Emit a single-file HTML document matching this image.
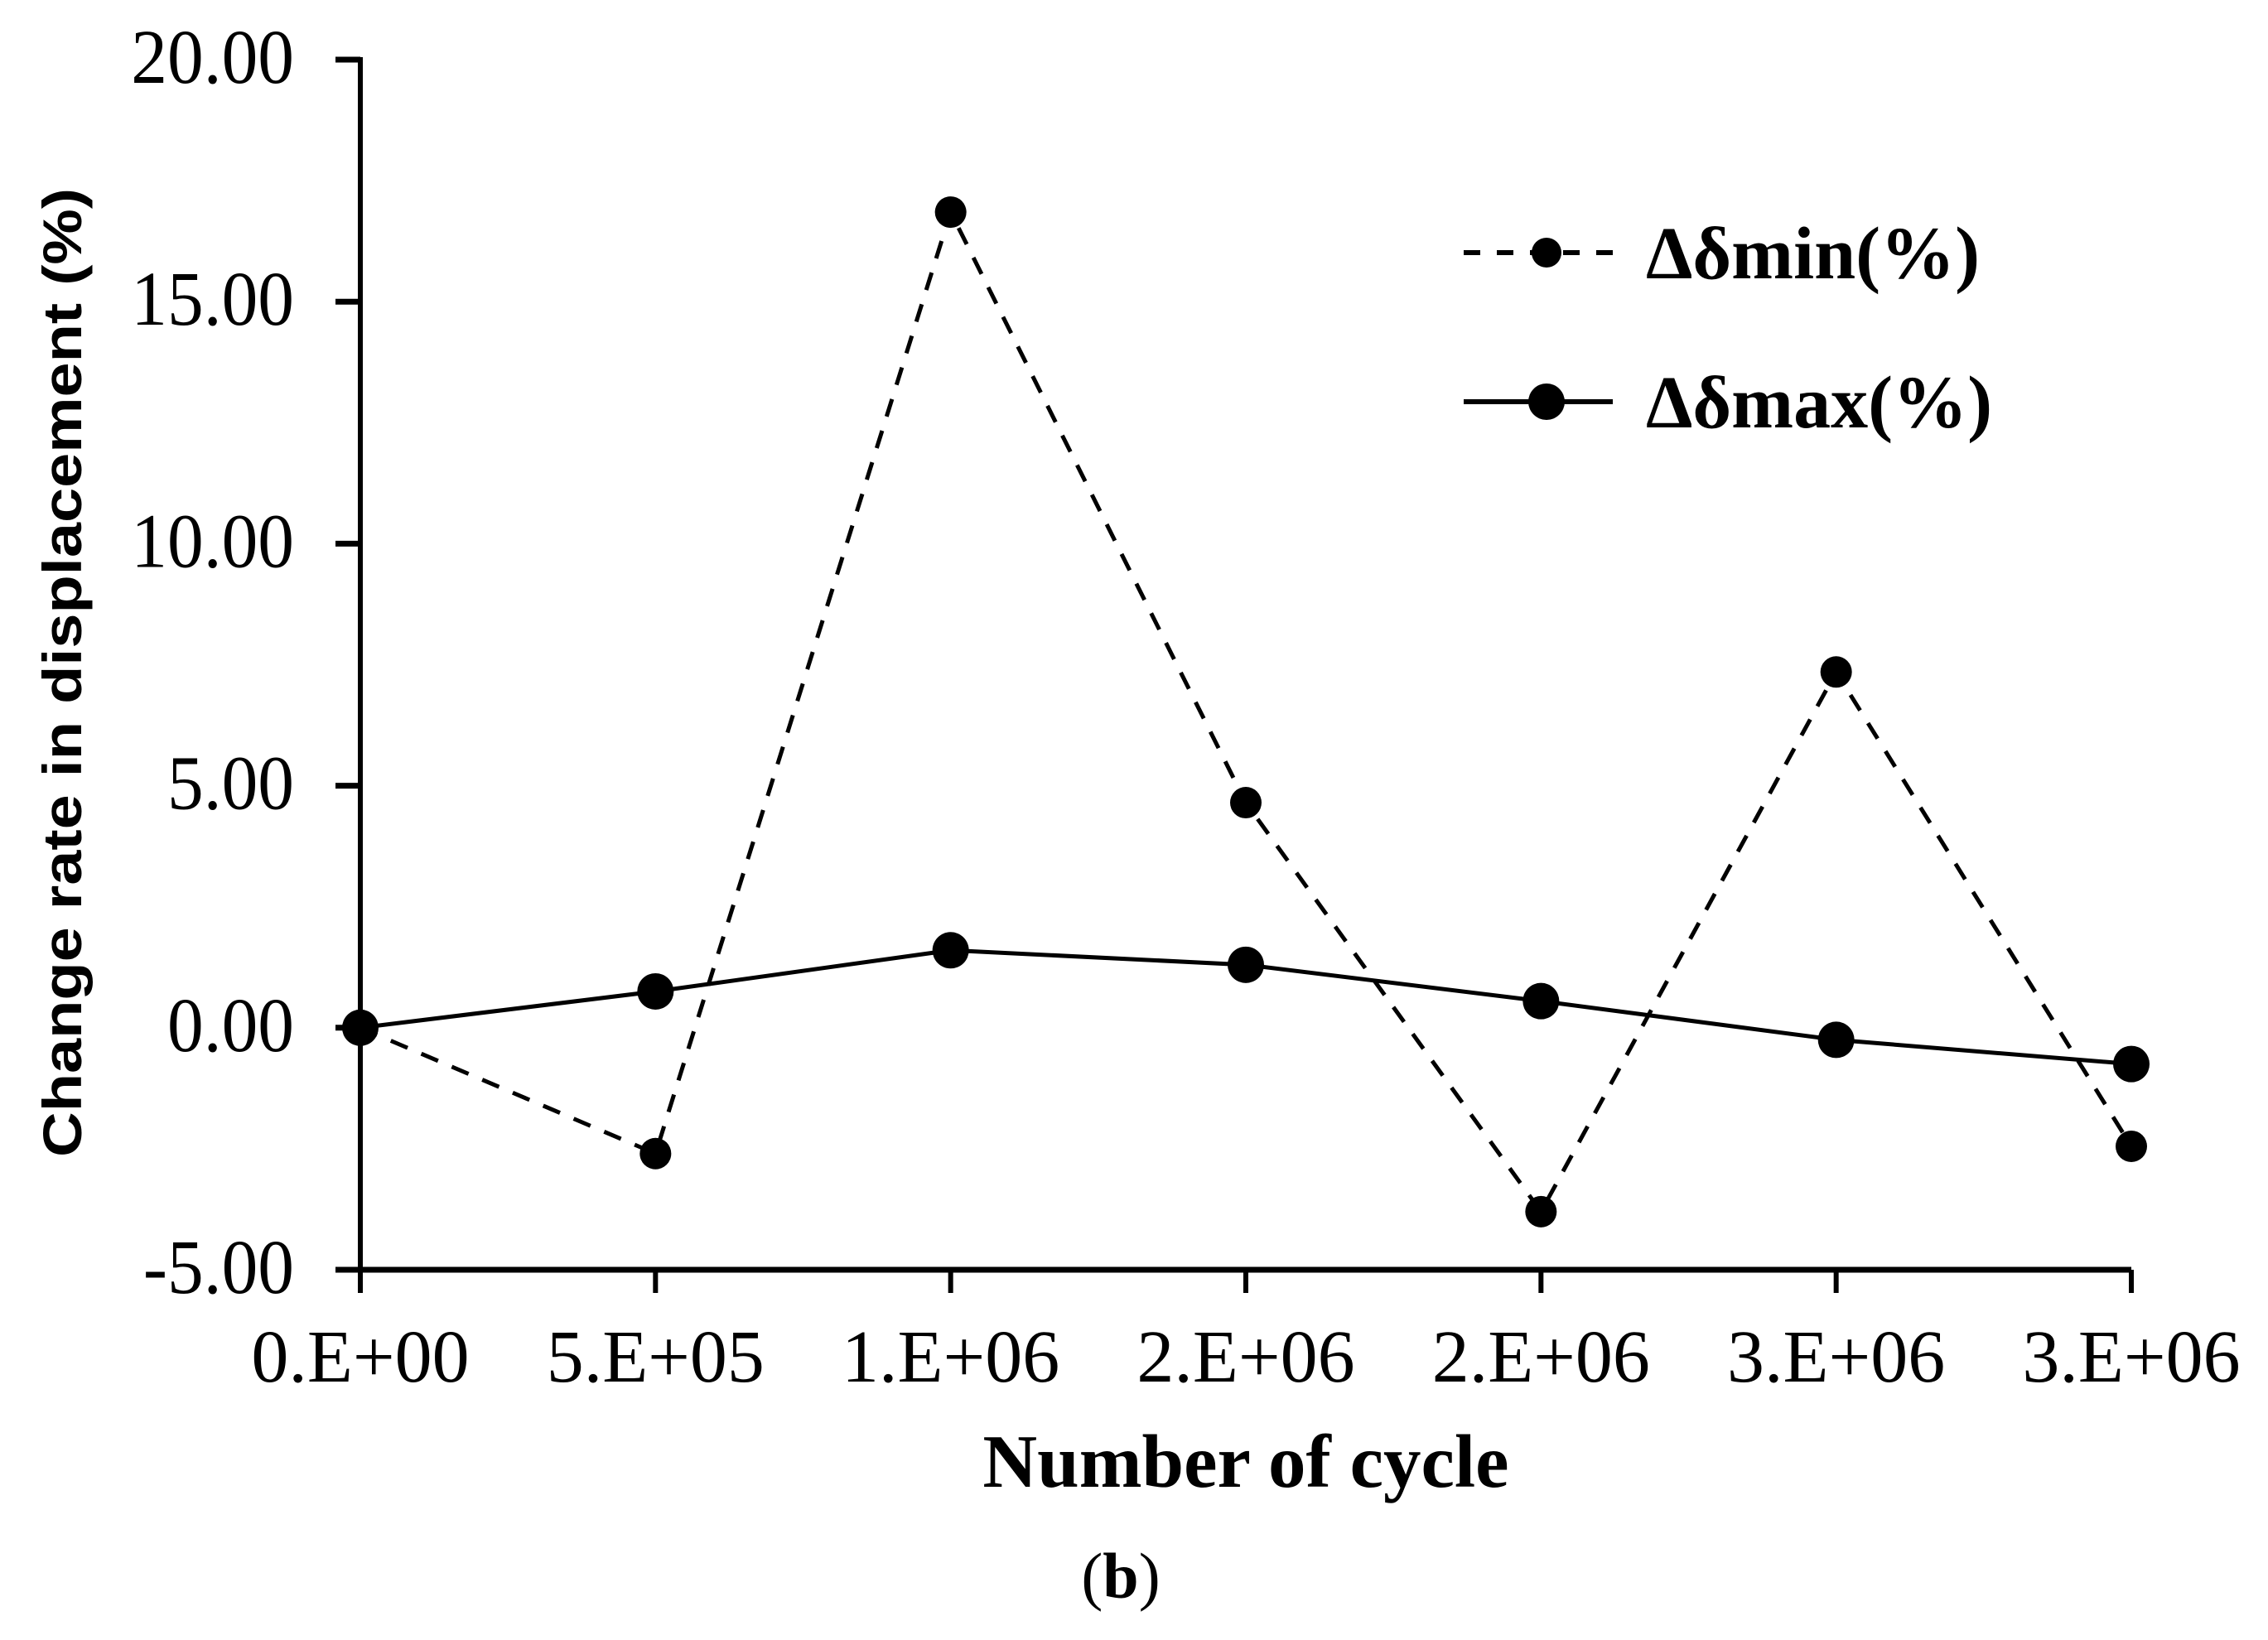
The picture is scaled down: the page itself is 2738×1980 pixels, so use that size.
<!DOCTYPE html>
<html><head><meta charset="utf-8"><style>
html,body{margin:0;padding:0;background:#fff;}
svg{display:block;}
</style></head><body>
<svg id="chart" width="2738" height="1980" viewBox="0 0 2738 1980" xmlns="http://www.w3.org/2000/svg">
<rect width="2738" height="1980" fill="#fff"/>
<g id="axes"></g>
<g id="series"></g>
<text x="1504" y="1795" font-family="Liberation Serif, serif" font-weight="bold" font-size="91" text-anchor="middle">Number of cycle</text>
<text x="1353" y="1929" font-family="Liberation Serif, serif" font-size="78" text-anchor="middle">(<tspan font-weight="bold">b</tspan>)</text>
<text transform="translate(98,812) rotate(-90)" font-family="Liberation Sans, sans-serif" font-weight="bold" font-size="66" text-anchor="middle" textLength="1170" lengthAdjust="spacingAndGlyphs">Change rate in displacement (%)</text>
<g>
  <g>
    <line x1="1767" y1="305" x2="1947" y2="305" stroke="#000" stroke-width="6" stroke-dasharray="20,20"/>
    <circle cx="1867" cy="305" r="18" fill="#000"/>
    <text x="1987" y="336" font-family="Liberation Serif, serif" font-weight="bold" font-size="90">Δδmin(%)</text>
  </g>
  <g>
    <line x1="1767" y1="485" x2="1947" y2="485" stroke="#000" stroke-width="6"/>
    <circle cx="1867" cy="485" r="22" fill="#000"/>
    <text x="1987" y="516" font-family="Liberation Serif, serif" font-weight="bold" font-size="90">Δδmax(%)</text>
  </g>
</g>
</svg>
<script>
const categories = ["0.E+00","5.E+05","1.E+06","2.E+06","2.E+06","3.E+06","3.E+06"];
const minValues = [0, -2.6, 16.85, 4.65, -3.8, 7.35, -2.45];
const maxValues = [0, 0.75, 1.6, 1.3, 0.55, -0.25, -0.75];
const yTicks = [-5, 0, 5, 10, 15, 20];
const yTickLabels = ["-5.00","0.00","5.00","10.00","15.00","20.00"];

const NS = "http://www.w3.org/2000/svg";
const X0 = 435, X1 = 2573, Y0 = 1533, Y1 = 72, YMIN = -5, YMAX = 20;
function xs(i){ return X0 + (X1 - X0) * i / (categories.length - 1); }
function ys(v){ return Y0 - (v - YMIN) / (YMAX - YMIN) * (Y0 - Y1); }
function mk(tag, attrs, parent){ const e = document.createElementNS(NS, tag); for (const k in attrs) e.setAttribute(k, attrs[k]); parent.appendChild(e); return e; }

const axes = document.getElementById('axes');
let e = mk('line', {x1:X0, y1:Y0, x2:X1, y2:Y0, stroke:'#000', 'stroke-width':7}, axes);


e = mk('line', {x1:X0, y1:Y1-3, x2:X0, y2:Y0, stroke:'#000', 'stroke-width':6}, axes);


yTicks.forEach((t, i) => {
  const y = ys(t);
  const tk = mk('line', {x1:405, y1:y, x2:X0, y2:y, stroke:'#000', 'stroke-width':7}, axes);
  
  
  const lb = mk('text', {x:0, y:0, transform:'translate(355,' + (y + 28) + ') scale(0.94,1)', 'font-family':'Liberation Serif, serif', 'font-size':93, 'text-anchor':'end'}, axes);
  lb.textContent = yTickLabels[i];
  
  
});
categories.forEach((c, i) => {
  const x = xs(i);
  const tk = mk('line', {x1:x, y1:Y0, x2:x, y2:1561, stroke:'#000', 'stroke-width':6}, axes);
  
  
  const lb = mk('text', {x:x, y:1668, 'font-family':'Liberation Serif, serif', 'font-size':90, 'text-anchor':'middle'}, axes);
  lb.textContent = c;
  
  
});

const series = document.getElementById('series');
function drawSeries(vals, name, dash, r){
  const pts = vals.map((v, i) => xs(i) + ',' + ys(v)).join(' ');
  const attrs = {points:pts, fill:'none', stroke:'#000', 'stroke-width':5};
  if (dash) attrs['stroke-dasharray'] = dash;
  const pl = mk('polyline', attrs, series);
  
  
  vals.forEach((v, i) => {
    const c = mk('circle', {cx:xs(i), cy:ys(v), r:r, fill:'#000'}, series);
    
    
  });
}
drawSeries(minValues, 'delta-min', '22,18', 19);
drawSeries(maxValues, 'delta-max', null, 22);
</script>
</body></html>
